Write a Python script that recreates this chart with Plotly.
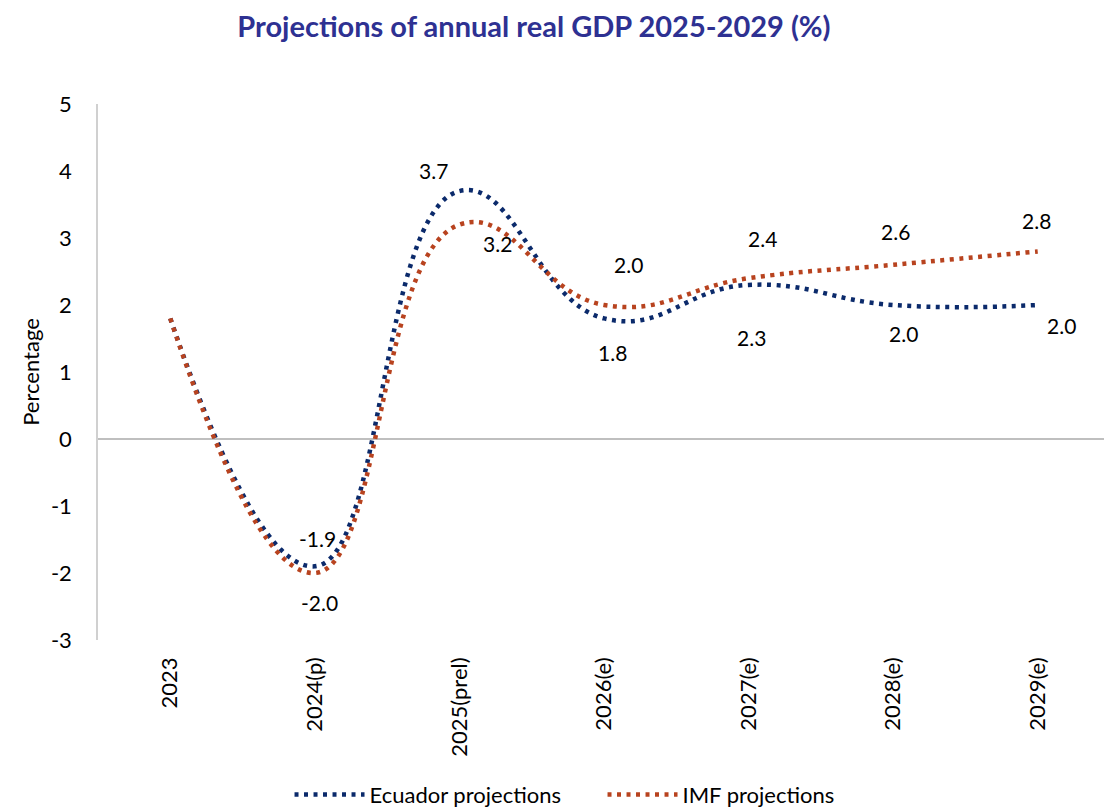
import plotly.graph_objects as go

categories = ["2023", "2024(p)", "2025(prel)", "2026(e)", "2027(e)", "2028(e)", "2029(e)"]
ecuador = [1.8, -1.9, 3.7, 1.8, 2.3, 2.0, 2.0]
imf = [1.8, -2.0, 3.2, 2.0, 2.4, 2.6, 2.8]
ecuador_labels = ["1.8", "-1.9", "3.7", "1.8", "2.3", "2.0", "2.0"]
imf_labels = ["", "-2.0", "3.2", "2.0", "2.4", "2.6", "2.8"]
y_ticks = [5, 4, 3, 2, 1, 0, -1, -2, -3]
y_tick_text = ["5", "4", "3", "2", "1", "0", "-1", "-2", "-3"]

NAVY = "#0B2A6B"
RUST = "#B8431F"
FONT = "Lato"
FS = 22

fig = go.Figure()
fig.add_trace(go.Scatter(
    x=categories, y=ecuador, name="Ecuador projections", mode="lines",
    line=dict(color=NAVY, width=4.5, dash="4px,5.5px", shape="spline", smoothing=1.3),
))
fig.add_trace(go.Scatter(
    x=categories, y=imf, name="IMF projections", mode="lines",
    line=dict(color=RUST, width=4.5, dash="4px,5.5px", shape="spline", smoothing=1.3),
))

# label offsets (pixels) per point
eco_shift = [(0, 34), (3, 28), (-26, 21), (8, -34), (3, -53), (10, -28), (24, -20)]
imf_shift = [(0, 0), (5, -29), (38, -19), (24, 41), (14, 40), (2, 33), (-1, 31)]

for i, c in enumerate(categories):
    if ecuador_labels[i]:
        fig.add_annotation(x=c, y=ecuador[i], text=ecuador_labels[i], showarrow=False,
                           xshift=eco_shift[i][0], yshift=eco_shift[i][1],
                           font=dict(size=FS - 1, color="#000000", family=FONT))
    if imf_labels[i]:
        fig.add_annotation(x=c, y=imf[i], text=imf_labels[i], showarrow=False,
                           xshift=imf_shift[i][0], yshift=imf_shift[i][1],
                           font=dict(size=FS - 1, color="#000000", family=FONT))

fig.update_layout(
    width=1104, height=800,
    paper_bgcolor="white", plot_bgcolor="white",
    margin=dict(l=90, r=2, t=96, b=168, autoexpand=False),
    font=dict(family=FONT, size=FS, color="#000000"),
    title=dict(text="<b>Projections of annual real GDP 2025-2029 (%)</b>",
               x=0.4764, xanchor="center", xref="container",
               y=0.976, yanchor="middle", yref="container",
               font=dict(size=29, color="#2E3192", family=FONT)),
    showlegend=True,
    legend=dict(orientation="h", x=0.255, xanchor="left", xref="container",
                y=0.0165, yanchor="middle", yref="container",
                font=dict(size=FS, family=FONT), itemwidth=70,
                entrywidth=228, entrywidthmode="pixels", tracegroupgap=0),
)
fig.update_xaxes(
    type="category", range=[-0.5, 6.5], tickangle=-90, showgrid=False,
    showline=False, zeroline=False, ticks="", tickfont=dict(size=FS),
    ticklabelstandoff=12,
)
fig.update_yaxes(
    range=[-3, 5], tickvals=y_ticks, ticktext=y_tick_text, showgrid=False, zeroline=True,
    zerolinecolor="#BFBFBF", zerolinewidth=1.5, showline=True, linecolor="#D0D0D0",
    linewidth=1.5, ticks="", tickfont=dict(size=FS), ticklabelstandoff=20,
    title=dict(text="Percentage", font=dict(size=FS), standoff=5),
)

fig.write_html("out.html")
